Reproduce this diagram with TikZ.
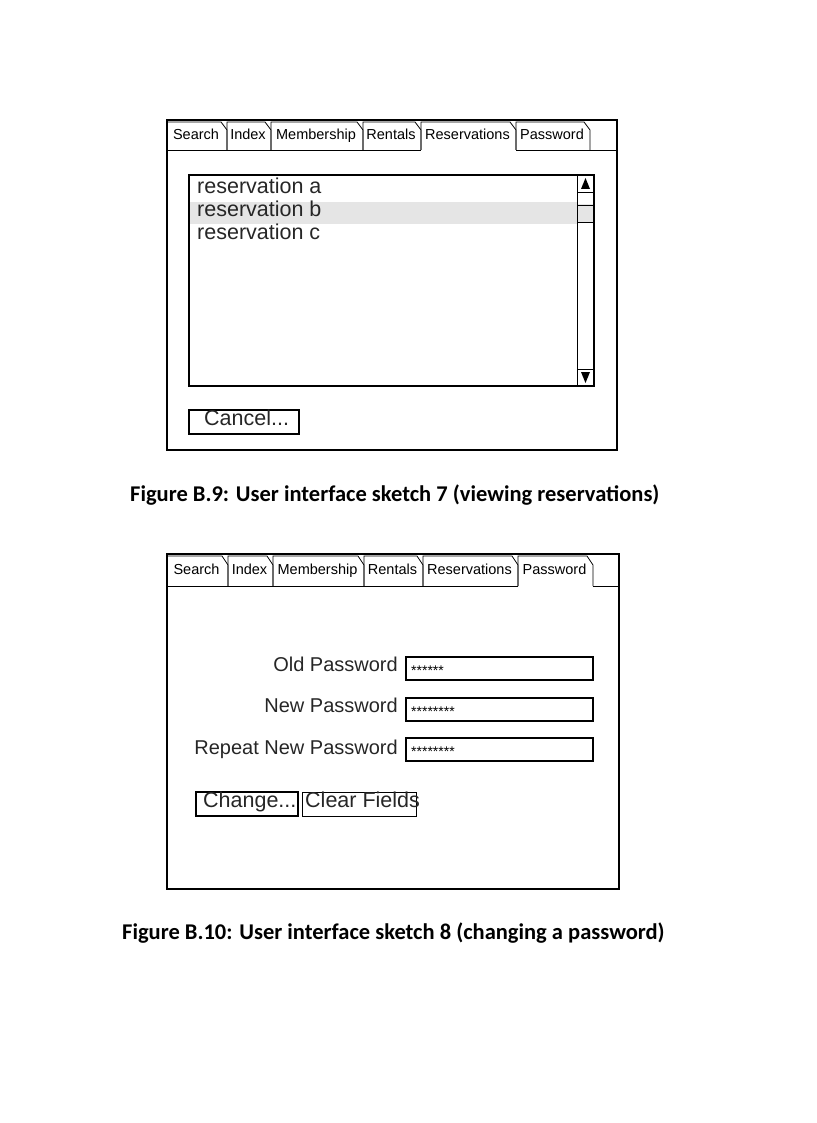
\documentclass[tikz,border=0pt]{standalone}
\usepackage{fontspec}
\setmainfont{Liberation Sans}
\newfontfamily\capfont{Carlito}
\begin{document}
\begin{tikzpicture}[x=1pt,y=-1pt,
  win/.style={draw,line width=1.6pt},
  tabl/.style={font=\fontsize{14.5}{16}\selectfont,anchor=center,inner sep=0,text height=0.72em,text depth=0.2em},
  item/.style={font=\fontsize{21.5}{24}\selectfont,anchor=west,inner sep=0,text=black!85,text height=0.72em,text depth=0.2em},
  lab/.style={font=\fontsize{20}{22}\selectfont,anchor=east,inner sep=0,text=black!85,text height=0.72em,text depth=0.2em},
  stars/.style={anchor=west,inner sep=0,font=\fontsize{14}{14}\selectfont},
  btn/.style={draw,line width=1.3pt},
  figcap/.style={font=\capfont\bfseries\fontsize{22.5}{24}\selectfont,anchor=west,inner sep=0}]
\useasboundingbox (0,0) rectangle (816,1123);
% ---------- window 1
\draw[win] (167,120) rectangle (617,450);
\foreach \a/\b/\t [count=\i] in {167/227/Search,227/271/Index,271/363/Membership,363/421/Rentals,421/516/Reservations,516/590/Password}{
  \draw[line width=0.8pt] (\a,150) -- (\a,122) -- (\b-6,122) -- (\b,130) -- (\b,150);
  \node[tabl] (ta\i) at ({(\a+\b)/2-1},137) {\t};
}
\draw[line width=0.8pt] (167,150) -- (421,150) (516,150) -- (617,150);
\fill[gray!20] (190,202) rectangle (577,224);
\fill[gray!20] (578,204) rectangle (593,222);
\draw[line width=1.4pt] (189,175) rectangle (594,386);
\draw[line width=1pt] (577,175) -- (577,386);
\draw[line width=0.8pt] (577,192) -- (594,192) (577,205) -- (594,205) (577,222) -- (594,222) (577,369) -- (594,369);
\fill (585.5,178) -- (590,189) -- (581,189) -- cycle;
\fill (585.5,383) -- (590,372) -- (581,372) -- cycle;
\node[item] (ra) at (197,191) {reservation a};
\node[item] (rb) at (197,214) {reservation b};
\node[item] (rc) at (197,237) {reservation c};
\draw[btn] (189,410) rectangle (299,434);
\node[item] (cancel) at (204,423) {Cancel...};
\node[figcap] (c1) at (130,495) {Figure B.9: User interface sketch 7 (viewing reservations)};
% ---------- window 2
\draw[win] (167,554) rectangle (619,889);
\foreach \a/\b/\t [count=\i] in {167/228/Search,228/273/Index,273/364/Membership,364/423/Rentals,423/518/Reservations,518/593/Password}{
  \draw[line width=0.8pt] (\a,586) -- (\a,556) -- (\b-6,556) -- (\b,565) -- (\b,586);
  \node[tabl] (tb\i) at ({(\a+\b)/2-1},572) {\t};
}
\draw[line width=0.8pt] (167,586) -- (518,586) (593,586) -- (619,586);
\node[lab] (l1) at (398,669) {Old Password};
\node[lab] (l2) at (398,710) {New Password};
\node[lab] (l3) at (398,752) {Repeat New Password};
\draw[line width=1.4pt] (406,657) rectangle (593,680);
\draw[line width=1.4pt] (406,698) rectangle (593,721);
\draw[line width=1.4pt] (406,738) rectangle (593,761);
\node[stars] (f1) at (411,671) {******};
\node[stars] (f2) at (411,712) {********};
\node[stars] (f3) at (411,752) {********};
\draw[btn] (196,792) rectangle (298,816);
\node[item] (chg) at (203,805) {Change...};
\draw[line width=1pt] (302,792) rectangle (416,816);
\node[item] (clr) at (305,805) {Clear Fields};
\node[figcap] (c2) at (122,933) {Figure B.10: User interface sketch 8 (changing a password)};
\end{tikzpicture}
\end{document}
